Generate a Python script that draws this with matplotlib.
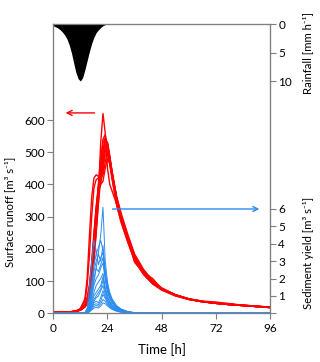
import numpy as np
import matplotlib.pyplot as plt
from matplotlib.ticker import FixedLocator

plt.rcParams['font.family'] = ['Lato', 'DejaVu Sans']

# rainfall, hourly [mm/h]
rain_t = [0, 1, 2, 3, 4, 5, 6, 7, 8, 9, 10, 11, 12, 13, 14, 15, 16, 17, 18, 19, 20, 21, 22, 23, 24]
rain = [0.3, 0.5, 0.7, 1.0, 1.4, 1.9, 2.6, 3.6, 5.0, 6.8, 8.5, 9.6, 10.0, 9.4, 8.0, 6.4, 4.8, 3.4, 2.3, 1.5, 1.0, 0.6, 0.3, 0.1, 0.0]

# surface runoff ensemble [m3/s]
runoff_t = [0, 8, 10, 12, 14, 15, 16, 17, 18, 19, 20, 21, 22, 23, 24, 25, 26, 28, 30, 33, 36, 40, 44, 48, 54, 60, 66, 72, 78, 84, 90, 96]
runoff = [
    [5, 5, 6, 10, 20, 30, 55, 100, 170, 260, 380, 530, 620, 560, 450, 400, 380, 340, 290, 228, 168, 124, 94, 74, 55, 43, 36, 31, 27, 24, 21, 18],
    [5, 5, 7, 15, 45, 110, 240, 360, 420, 430, 425, 410, 440, 500, 520, 478, 440, 365, 312, 245, 184, 136, 102, 79, 58, 45, 37, 32, 28, 25, 22, 19],
    [5, 5, 7, 14, 38, 85, 180, 300, 390, 415, 420, 400, 460, 520, 510, 470, 430, 352, 296, 232, 172, 126, 95, 75, 56, 44, 36, 31, 27, 24, 21, 18],
    [5, 5, 6, 10, 22, 35, 60, 110, 190, 280, 380, 470, 540, 555, 520, 485, 442, 362, 305, 238, 176, 130, 98, 77, 57, 44, 36, 31, 27, 24, 21, 18],
    [5, 5, 6, 11, 24, 40, 70, 130, 220, 310, 400, 480, 530, 545, 515, 475, 430, 350, 295, 232, 172, 127, 96, 76, 57, 45, 37, 32, 28, 25, 22, 19],
    [5, 5, 6, 10, 20, 32, 55, 100, 170, 260, 350, 440, 500, 535, 525, 480, 435, 355, 300, 238, 178, 130, 98, 77, 58, 45, 38, 35, 30, 25, 22, 19],
    [5, 5, 6, 12, 26, 45, 80, 150, 240, 330, 400, 450, 490, 505, 500, 465, 420, 340, 285, 222, 163, 120, 91, 72, 54, 43, 36, 31, 27, 24, 21, 18],
    [5, 5, 6, 11, 22, 38, 65, 120, 200, 290, 370, 430, 470, 490, 495, 470, 430, 352, 295, 234, 178, 132, 98, 76, 57, 44, 36, 31, 30, 24, 21, 18],
    [5, 5, 6, 10, 21, 36, 62, 115, 200, 300, 390, 460, 510, 540, 530, 485, 438, 358, 302, 236, 158, 126, 108, 76, 56, 44, 37, 31, 27, 26, 21, 18],
    [5, 5, 6, 10, 20, 30, 50, 90, 160, 250, 340, 420, 480, 520, 530, 490, 440, 358, 300, 240, 180, 132, 99, 77, 58, 45, 37, 32, 28, 25, 23, 19],
    [5, 5, 6, 12, 28, 50, 90, 160, 250, 330, 390, 420, 430, 470, 500, 462, 418, 338, 283, 220, 164, 121, 92, 73, 55, 43, 36, 31, 27, 24, 21, 18],
    [5, 5, 6, 11, 24, 42, 75, 140, 230, 320, 380, 400, 410, 450, 480, 465, 428, 350, 293, 230, 170, 126, 95, 75, 56, 44, 36, 31, 27, 24, 21, 18],
]

# sediment yield ensemble [m3/s]
sed_t = [0, 12, 14, 15, 16, 17, 18, 19, 20, 21, 22, 23, 24, 25, 26, 28, 30, 33, 36, 40, 48, 96]
sediment = [
    [0, 0, 0.02, 0.1, 0.4, 1.0, 1.8, 2.6, 3.5, 4.5, 6.1, 3.0, 1.8, 1.2, 0.85, 0.45, 0.25, 0.1, 0.04, 0.01, 0, 0],
    [0, 0, 0.05, 0.3, 1.5, 3.0, 4.2, 3.6, 2.8, 3.2, 3.5, 2.2, 1.4, 1.0, 0.7, 0.38, 0.2, 0.08, 0.03, 0.01, 0, 0],
    [0, 0, 0.03, 0.2, 0.8, 1.8, 2.8, 3.4, 3.8, 4.2, 3.6, 2.3, 1.5, 1.0, 0.72, 0.4, 0.22, 0.09, 0.03, 0.01, 0, 0],
    [0, 0, 0.02, 0.15, 0.6, 1.4, 2.4, 3.0, 3.4, 3.0, 3.9, 2.5, 1.6, 1.1, 0.75, 0.4, 0.22, 0.09, 0.03, 0.01, 0, 0],
    [0, 0, 0.02, 0.1, 0.5, 1.2, 2.0, 2.6, 2.4, 2.8, 3.2, 2.1, 1.3, 0.9, 0.65, 0.35, 0.2, 0.08, 0.03, 0.01, 0, 0],
    [0, 0, 0.02, 0.1, 0.4, 0.9, 1.6, 2.0, 2.2, 2.6, 2.9, 1.9, 1.2, 0.85, 0.6, 0.32, 0.18, 0.07, 0.03, 0.01, 0, 0],
    [0, 0, 0.01, 0.08, 0.3, 0.7, 1.2, 1.6, 1.8, 2.0, 2.3, 1.5, 1.0, 0.7, 0.5, 0.28, 0.15, 0.06, 0.02, 0.01, 0, 0],
    [0, 0, 0.01, 0.06, 0.25, 0.6, 1.0, 1.2, 1.4, 1.6, 2.1, 1.4, 0.9, 0.65, 0.46, 0.25, 0.14, 0.05, 0.02, 0.01, 0, 0],
    [0, 0, 0.01, 0.05, 0.2, 0.5, 0.8, 1.0, 1.2, 1.4, 1.9, 1.3, 0.85, 0.6, 0.43, 0.23, 0.13, 0.05, 0.02, 0.01, 0, 0],
    [0, 0, 0.01, 0.05, 0.2, 0.4, 0.7, 0.9, 1.0, 1.3, 1.6, 1.1, 0.75, 0.52, 0.38, 0.2, 0.11, 0.04, 0.02, 0.01, 0, 0],
    [0, 0, 0.01, 0.04, 0.15, 0.35, 0.6, 0.7, 0.6, 0.9, 1.3, 0.95, 0.65, 0.47, 0.34, 0.18, 0.1, 0.04, 0.02, 0.01, 0, 0],
    [0, 0, 0.01, 0.03, 0.12, 0.3, 0.5, 0.55, 0.5, 0.7, 1.1, 0.85, 0.6, 0.42, 0.3, 0.16, 0.09, 0.03, 0.01, 0, 0, 0],
    [0, 0, 0.01, 0.03, 0.1, 0.25, 0.4, 0.45, 0.4, 0.55, 0.8, 0.68, 0.5, 0.36, 0.26, 0.14, 0.07, 0.03, 0.01, 0, 0, 0],
    [0, 0, 0.01, 0.02, 0.08, 0.2, 0.3, 0.35, 0.3, 0.42, 0.6, 0.55, 0.42, 0.32, 0.23, 0.12, 0.06, 0.02, 0.01, 0, 0, 0],
]

x_ticks = [0, 24, 48, 72, 96]
runoff_ticks = [0, 100, 200, 300, 400, 500, 600]
rain_ticks = [0, 5, 10]
sed_ticks = [0, 1, 2, 3, 4, 5, 6]
sed_labels = ['', '1', '2', '3', '4', '5', '6']

RED = '#FF0000'
BLUE = '#2A8CF0'
GREY = '#7F7F7F'
FS = 8.5
W, H = 320, 362

fig = plt.figure(figsize=(3.2, 3.62), dpi=100)
ax = fig.add_axes([0.1666, 0.1345, 0.6772, 0.7992])

for run in runoff:
    ax.plot(runoff_t, run, color=RED, linewidth=1.0)

ax.set_xlim(0, 96)
ax.set_ylim(0, 898)
ax.xaxis.set_major_locator(FixedLocator(x_ticks))
ax.yaxis.set_major_locator(FixedLocator(runoff_ticks))
ax.annotate('', xy=(4.2, 622), xytext=(19.5, 622),
            arrowprops=dict(arrowstyle='->', color=RED, lw=1, mutation_scale=9))

# rainfall hanging from the top
ax_rain = ax.twinx()
ax_rain.fill_between(rain_t, 0, rain, color='black', linewidth=0)
ax_rain.set_ylim(50.75, 0)
ax_rain.yaxis.set_major_locator(FixedLocator(rain_ticks))

# sediment yield
ax_sed = ax.twinx()
for s in sediment:
    ax_sed.plot(sed_t, s, color=BLUE, linewidth=0.7)
ax_sed.set_ylim(0, 16.64)
ax_sed.yaxis.set_major_locator(FixedLocator(sed_ticks))
ax_sed.set_yticklabels(sed_labels)
ax_sed.annotate('', xy=(92.5, 6.0), xytext=(25, 6.0),
                arrowprops=dict(arrowstyle='->', color=BLUE, lw=1, mutation_scale=9))

for a in (ax, ax_rain, ax_sed):
    for sp in a.spines.values():
        sp.set_color(GREY)
    a.tick_params(direction='out', length=4, width=0.8, color=GREY,
                  labelsize=FS, pad=2)
ax.tick_params(axis='x', pad=3)

# axis titles placed in figure pixels
fig.text(162 / W, 1 - 350 / H, 'Time [h]', fontsize=9.5, ha='center', va='center')
fig.text(10 / W, 1 - 212 / H, 'Surface runoff [m³ s⁻¹]', fontsize=8.2,
         rotation=90, ha='center', va='center')
fig.text(308 / W, 1 - 53 / H, 'Rainfall [mm h⁻¹]', fontsize=8.2,
         rotation=90, ha='center', va='center')
fig.text(308 / W, 1 - 253 / H, 'Sediment yield [m³ s⁻¹]', fontsize=8.2,
         rotation=90, ha='center', va='center')

fig.savefig('out.png', dpi=100)
